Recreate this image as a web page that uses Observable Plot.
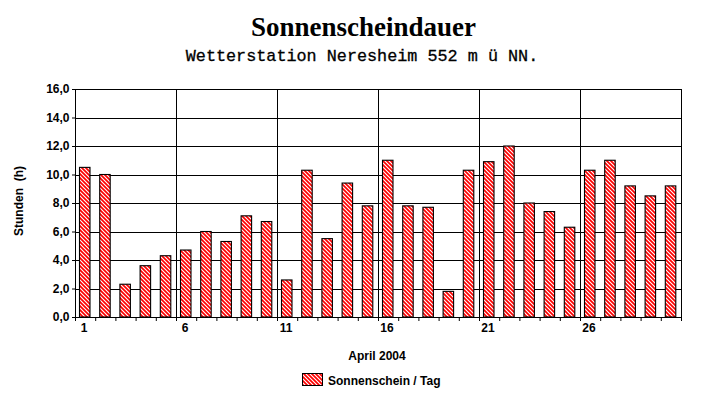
<!DOCTYPE html>
<html><head><meta charset="utf-8">
<script src="https://cdn.jsdelivr.net/npm/d3@7"></script>
<script src="https://cdn.jsdelivr.net/npm/@observablehq/plot@0.6"></script>
<style>
body{margin:0;background:#fff;}
#wrap{position:relative;width:727px;height:404px;overflow:hidden;}
#wrap svg{position:absolute;left:0;top:0;}
</style></head><body><div id="wrap"></div>
<script>
const titleText = "Sonnenscheindauer";
const subtitleText = "Wetterstation Neresheim 552 m ü NN.";
const yAxisLabel = "Stunden\u00a0\u00a0(h)";
const xAxisLabel = "April 2004";
const legendLabel = "Sonnenschein / Tag";
const days = [1,2,3,4,5,6,7,8,9,10,11,12,13,14,15,16,17,18,19,20,21,22,23,24,25,26,27,28,29,30];
const hours = [10.5,10.0,2.3,3.6,4.3,4.7,6.0,5.3,7.1,6.7,2.6,10.3,5.5,9.4,7.8,11.0,7.8,7.7,1.8,10.3,10.9,12.0,8.0,7.4,6.3,10.3,11.0,9.2,8.5,9.2];
const yTicks = [0,2,4,6,8,10,12,14,16];
const xLabelTicks = [1,6,11,16,21,26];
const xTickMarks = [1,2,3,4,5,6,7,8,9,10,11,12,13,14,15,16,17,18,19,20,21,22,23,24,25,26,27,28,29,30,31];
const xGrid = [6,11,16,21,26];

const data = days.map((d,i) => ({day: d, value: hours[i]}));
const fmt = v => d3.format(".1f")(v).replace(".", ",");

const chart = Plot.plot({
  width: 727, height: 404,
  marginTop: 89, marginBottom: 87, marginLeft: 75, marginRight: 46,
  style: {fontFamily: "'Liberation Sans', Arial, sans-serif", fontSize: "12px", fontWeight: "bold", color: "black", background: "transparent", overflow: "visible"},
  x: {type: "linear", domain: [1, 31], axis: null},
  y: {domain: [0, 16], axis: null},
  marks: [
    Plot.ruleY(yTicks, {stroke: "black", strokeWidth: 1, shapeRendering: "crispEdges"}),
    Plot.ruleX(xGrid, {stroke: "black", strokeWidth: 1, shapeRendering: "crispEdges"}),
    Plot.rectY(data, {x: "day", interval: 1, y: "value", fill: "url(#hatch)", stroke: "black", strokeWidth: 1.1, insetLeft: 4.5, insetRight: 5.2}),
    Plot.frame({stroke: "black", strokeWidth: 1, shapeRendering: "crispEdges"}),
    Plot.axisY({ticks: yTicks, tickSize: 3, tickPadding: 3, tickFormat: fmt, label: null, fontWeight: "bold", fontSize: 12}),
    Plot.axisX({ticks: xTickMarks, tickSize: 4, tickFormat: () => "", label: null}),
    Plot.axisX({ticks: xLabelTicks, tickSize: 0, tickPadding: 6, dx: 8.5, tickFormat: d => String(d), label: null, fontWeight: "bold", fontSize: 12})
  ]
});

const defs = d3.select(chart).insert("defs", ":first-child");
const pat = defs.append("pattern").attr("id", "hatch").attr("patternUnits", "userSpaceOnUse").attr("width", 4).attr("height", 4);
pat.append("rect").attr("width", 4).attr("height", 4).attr("fill", "#ff0000");
pat.append("path").attr("d", "M-1,-1L5,5M-1,3L1,5M3,-1L5,1").attr("stroke", "#ffffff").attr("stroke-width", 1.1);

document.getElementById("wrap").appendChild(chart);

const ov = d3.select("#wrap").append("svg").attr("width", 727).attr("height", 404);
ov.append("text").attr("x", 363.5).attr("y", 36).attr("text-anchor", "middle")
  .attr("font-family", "'Liberation Serif', 'Times New Roman', serif").attr("font-weight", "bold").attr("font-size", 27).text(titleText);
ov.append("text").attr("x", 362).attr("y", 61).attr("text-anchor", "middle")
  .attr("font-family", "'Liberation Mono', 'Courier New', monospace").attr("font-size", 16.8).attr("stroke", "black").attr("stroke-width", 0.3).text(subtitleText);
ov.append("text").attr("transform", "translate(23,201) rotate(-90)").attr("text-anchor", "middle")
  .attr("font-family", "'Liberation Sans', Arial, sans-serif").attr("font-weight", "bold").attr("font-size", 12).text(yAxisLabel);
ov.append("text").attr("x", 377).attr("y", 360).attr("text-anchor", "middle")
  .attr("font-family", "'Liberation Sans', Arial, sans-serif").attr("font-weight", "bold").attr("font-size", 12).text(xAxisLabel);
const lg = ov.append("g");
lg.append("rect").attr("x", 302.5).attr("y", 373.5).attr("width", 20).attr("height", 12).attr("fill", "url(#hatch)").attr("stroke", "black");
lg.append("text").attr("x", 328).attr("y", 385).attr("font-family", "'Liberation Sans', Arial, sans-serif").attr("font-weight", "bold").attr("font-size", 12).text(legendLabel);
</script></body></html>
